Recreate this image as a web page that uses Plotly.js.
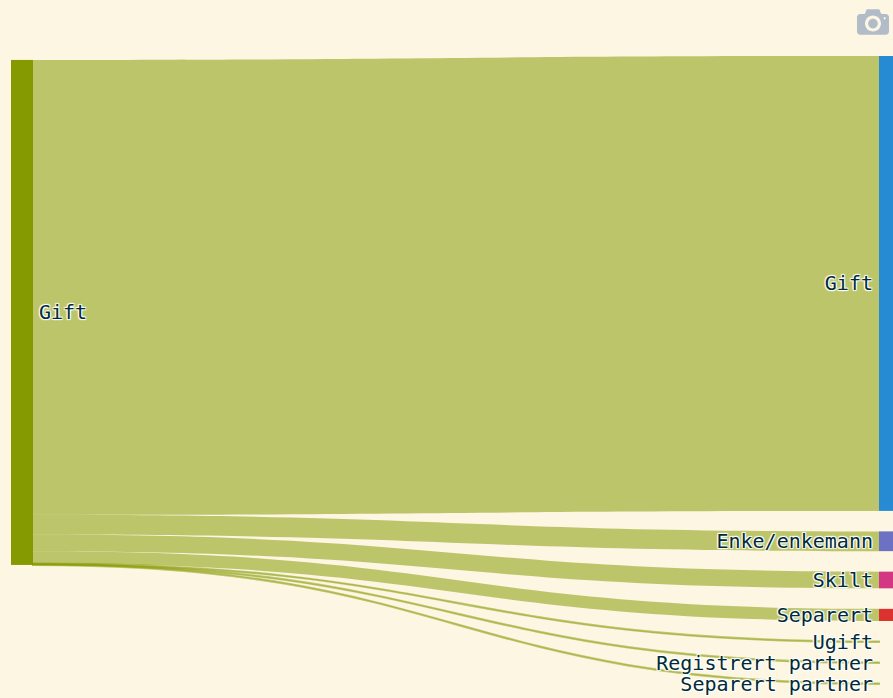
<!DOCTYPE html>
<html><head><meta charset="utf-8">
<script src="https://cdn.plot.ly/plotly-3.0.1.min.js"></script>
<style>html,body{margin:0;padding:0;background:#fdf6e3;overflow:hidden;width:893px;height:698px}
#chart{transform:translateX(1px) scale(2);transform-origin:0 0;width:449.5px;height:349px}
.modebar-container{top:-3.5px !important}</style>
</head><body><div id="chart"></div>
<script>
const nodeLabels = ["Gift","Gift","Enke/enkemann","Skilt","Separert","Ugift","Registrert partner","Separert partner"];
const nodeColors = ["#859900","#268bd2","#6c71c4","#d33682","#dc322f","rgba(0,0,0,0)","rgba(0,0,0,0)","rgba(0,0,0,0)"];
const linkSource = [0,0,0,0,0,0,0];
const linkTarget = [1,2,3,4,5,6,7];
const linkValues = [89.9,3.9,3.3,2.4,0.1,0.1,0.1];
const data = [{
  type:"sankey",
  node:{label:nodeLabels,color:nodeColors,thickness:11,pad:10.25,line:{width:0}},
  link:{source:linkSource,target:linkTarget,value:linkValues,color:"rgba(133,153,0,0.53)"},
  textfont:{family:"DejaVu Sans Mono",size:10,color:"#002b36"}
}];
const layout = {width:449.5,height:349,paper_bgcolor:"#fdf6e3",plot_bgcolor:"#fdf6e3",
  margin:{l:5,r:0,t:28,b:6.5},modebar:{color:"rgba(103,130,173,0.5)",bgcolor:"rgba(0,0,0,0)"}};
Plotly.newPlot("chart",data,layout,{displayModeBar:true,displaylogo:false,
  modeBarButtons:[["toImage"]]});
</script></body></html>
